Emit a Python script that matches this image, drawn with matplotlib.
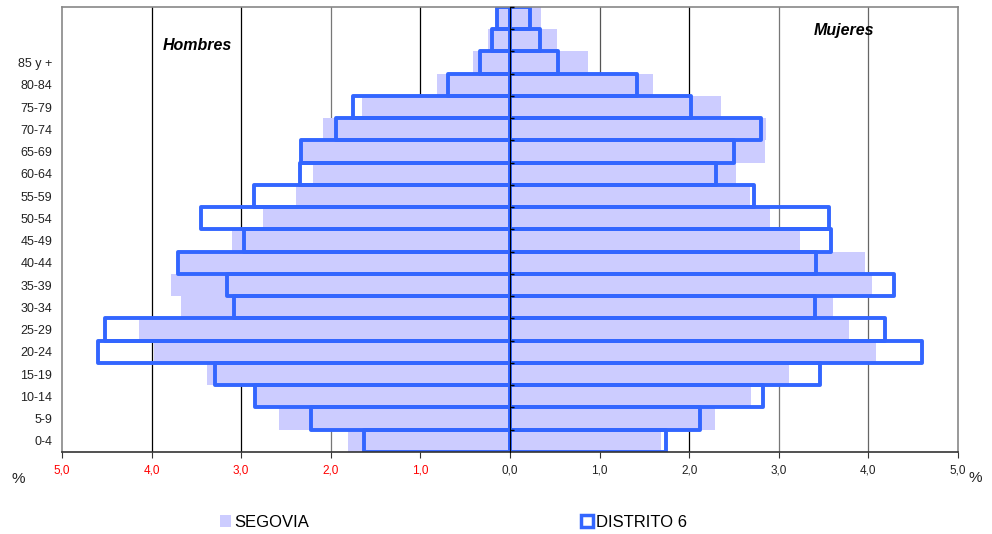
import numpy as np
import matplotlib.pyplot as plt
from matplotlib.patches import Patch

plt.rcParams['font.family'] = ['Liberation Sans', 'DejaVu Sans']

# Age groups (bottom to top); the two top rows have no label in the original
grupos = ['0-4', '5-9', '10-14', '15-19', '20-24', '25-29', '30-34', '35-39',
          '40-44', '45-49', '50-54', '55-59', '60-64', '65-69', '70-74',
          '75-79', '80-84', '85 y +', '', '']

# Percentages
segovia_h = [1.81, 2.58, 2.83, 3.38, 3.97, 4.14, 3.67, 3.78, 3.68, 3.10,
             2.76, 2.39, 2.20, 2.32, 2.09, 1.65, 0.81, 0.41, 0.24, 0.13]
segovia_m = [1.69, 2.29, 2.69, 3.11, 4.08, 3.78, 3.60, 4.04, 3.96, 3.24,
             2.90, 2.68, 2.52, 2.85, 2.86, 2.35, 1.60, 0.87, 0.52, 0.35]
distrito_h = [1.63, 2.22, 2.85, 3.29, 4.60, 4.52, 3.08, 3.16, 3.70, 2.97,
              3.45, 2.86, 2.34, 2.33, 1.94, 1.75, 0.69, 0.33, 0.20, 0.14]
distrito_m = [1.74, 2.12, 2.82, 3.46, 4.60, 4.19, 3.40, 4.29, 3.42, 3.58,
              3.56, 2.72, 2.30, 2.50, 2.80, 2.02, 1.42, 0.54, 0.33, 0.22]

x_ticks = [-5, -4, -3, -2, -1, 0, 1, 2, 3, 4, 5]

lila = '#CCCCFF'
azul = '#3366FF'

fig = plt.figure(figsize=(9.92, 5.34), dpi=100)
ax = fig.add_axes([0.0625, 0.1536, 0.9032, 0.8333])

y = np.arange(len(grupos))

# vertical grid lines
grid_cols = ['k', 'k', '#777777', 'k', None, '#555555', 'k', '#777777', '#666666']
for xv, c in zip([-4, -3, -2, -1, 0, 1, 2, 3, 4], grid_cols):
    if c is not None:
        ax.axvline(xv, color=c, lw=0.9, zorder=0)

# Segovia: filled bars
ax.barh(y, -np.array(segovia_h), height=1.0, color=lila, zorder=1)
ax.barh(y, segovia_m, height=1.0, color=lila, zorder=1)

# Distrito 6: outlined bars
ax.barh(y, -np.array(distrito_h), height=1.0, fill=False, edgecolor=azul,
        lw=2.8, zorder=2, joinstyle='round')
ax.barh(y, distrito_m, height=1.0, fill=False, edgecolor=azul,
        lw=2.8, zorder=2, joinstyle='round')

ax.set_xlim(-5, 5)
ax.set_ylim(-0.5, len(grupos) - 0.5)

ax.set_xticks(x_ticks)
ax.set_xticklabels([('%.1f' % abs(v)).replace('.', ',') for v in x_ticks],
                   fontsize=8.5)
for lab, v in zip(ax.get_xticklabels(), x_ticks):
    lab.set_color('red' if v < 0 else '#222222')
ax.tick_params(axis='x', length=4, width=0.8, color='#333333', pad=5)

ax.set_yticks(y)
ax.set_yticklabels(grupos, fontsize=9, color='#222222')
ax.tick_params(axis='y', length=0, pad=7)

for s in ['top', 'right', 'left']:
    ax.spines[s].set_color('#888888')
    ax.spines[s].set_linewidth(1.2)
ax.spines['bottom'].set_color('#333333')
ax.spines['bottom'].set_linewidth(1.2)

# central axis with row ticks
centro = ax.secondary_yaxis(0.5)
centro.set_yticks(np.arange(len(grupos)) + 0.5)
centro.set_yticklabels([])
centro.tick_params(length=3, width=1, direction='out', colors='k')
centro.spines['left'].set_linewidth(1.5)
centro.spines['left'].set_color('k')
centro.set_zorder(5)

ax.text(-3.88, 19.5 - 1.75, 'Hombres', fontsize=11.5, fontweight='bold',
        style='italic', ha='left', va='center')
ax.text(4.07, 19.5 - 1.05, 'Mujeres', fontsize=11.5, fontweight='bold',
        style='italic', ha='right', va='center')

fig.text(0.012, 0.095, '%', fontsize=11, color='#222222')
fig.text(0.976, 0.098, '%', fontsize=11, color='#222222')

handles = [Patch(facecolor=lila, edgecolor='none'),
           Patch(facecolor='white', edgecolor=azul, lw=2.5)]
fig.legend(handles, ['SEGOVIA', 'DISTRITO 6'], loc='lower center',
           bbox_to_anchor=(0.457, -0.02), ncol=2, frameon=False,
           fontsize=12, handlelength=0.7, handleheight=0.7,
           handletextpad=0.2, columnspacing=16.3)

fig.savefig('out.png', dpi=100)
